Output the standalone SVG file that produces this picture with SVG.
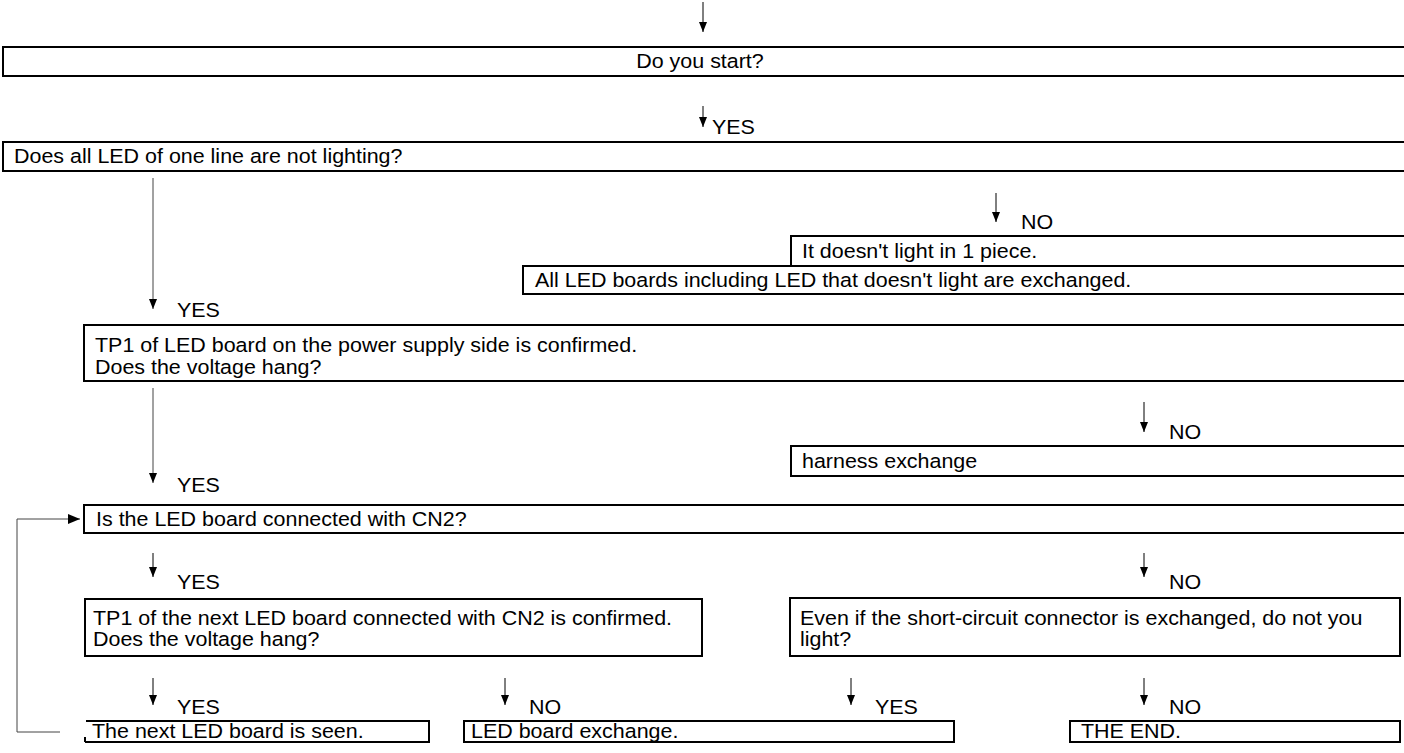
<svg xmlns="http://www.w3.org/2000/svg" width="1404" height="753" viewBox="0 0 1404 753">
<defs>
<marker id="ah" markerWidth="10" markerHeight="8" refX="10" refY="4" orient="auto" markerUnits="userSpaceOnUse" viewBox="0 0 10 8">
<path d="M0,0 L10,4 L0,8 Z" fill="#000"/>
</marker>
<marker id="ahl" markerWidth="12" markerHeight="10" refX="12" refY="5" orient="auto" markerUnits="userSpaceOnUse" viewBox="0 0 12 10">
<path d="M0,0 L12,5 L0,10 Z" fill="#000"/>
</marker>
</defs>
<style>
.box{fill:#fff;stroke:#000;stroke-width:2}
.t{font-family:"Liberation Sans",Arial,sans-serif;font-size:19.5px;fill:#000}
.c{fill:none;stroke:#000;stroke-width:1}
.cl{fill:none;stroke:#444;stroke-width:1}
</style>
<rect width="1404" height="753" fill="#fff"/>
<g id="connectors">
<line class="c" x1="703" y1="2" x2="703" y2="32" marker-end="url(#ah)"/>
<line class="c" x1="703" y1="106" x2="703" y2="127" marker-end="url(#ah)"/>
<line class="cl" x1="153" y1="178" x2="153" y2="309" marker-end="url(#ah)"/>
<line class="c" x1="996" y1="193" x2="996" y2="222" marker-end="url(#ah)"/>
<line class="cl" x1="153" y1="388" x2="153" y2="483" marker-end="url(#ah)"/>
<line class="c" x1="1144" y1="402" x2="1144" y2="432" marker-end="url(#ah)"/>
<line class="c" x1="153" y1="553" x2="153" y2="577" marker-end="url(#ah)"/>
<line class="c" x1="1144" y1="553" x2="1144" y2="577" marker-end="url(#ah)"/>
<line class="c" x1="153" y1="678" x2="153" y2="705" marker-end="url(#ah)"/>
<line class="c" x1="505" y1="678" x2="505" y2="705" marker-end="url(#ah)"/>
<line class="c" x1="851" y1="678" x2="851" y2="705" marker-end="url(#ah)"/>
<line class="c" x1="1144" y1="678" x2="1144" y2="705" marker-end="url(#ah)"/>
<polyline class="cl" points="60,732 17,732 17,519 80,519" marker-end="url(#ahl)"/>
<text class="t" transform="translate(712,134) scale(1.1,1)">YES</text>
<text class="t" transform="translate(177,317) scale(1.1,1)">YES</text>
<text class="t" transform="translate(1021,229) scale(1.1,1)">NO</text>
<text class="t" transform="translate(177,492) scale(1.1,1)">YES</text>
<text class="t" transform="translate(1169,439) scale(1.1,1)">NO</text>
<text class="t" transform="translate(177,589) scale(1.1,1)">YES</text>
<text class="t" transform="translate(1169,589) scale(1.1,1)">NO</text>
<text class="t" transform="translate(177,714) scale(1.1,1)">YES</text>
<text class="t" transform="translate(529,714) scale(1.1,1)">NO</text>
<text class="t" transform="translate(875,714) scale(1.1,1)">YES</text>
<text class="t" transform="translate(1169,714) scale(1.1,1)">NO</text>
</g>
<g id="n1"><rect class="box" x="3" y="47" width="1410" height="29"/><text class="t" transform="translate(700,68) scale(1.1,1)" text-anchor="middle">Do you start?</text></g>
<g id="n2"><rect class="box" x="3" y="142" width="1410" height="29"/><text class="t" transform="translate(14,163) scale(1.1,1)">Does all LED of one line are not lighting?</text></g>
<g id="n3"><rect class="box" x="791" y="236" width="620" height="30"/><text class="t" transform="translate(802,258) scale(1.1,1)">It doesn't light in 1 piece.</text></g>
<g id="n4"><rect class="box" x="523" y="266" width="890" height="28"/><text class="t" transform="translate(535,287) scale(1.1,1)">All LED boards including LED that doesn't light are exchanged.</text></g>
<g id="n5"><rect class="box" x="84" y="325" width="1330" height="56"/><text class="t" transform="translate(95,352) scale(1.1,1)">TP1 of LED board on the power supply side is confirmed.</text><text class="t" transform="translate(95,374) scale(1.1,1)">Does the voltage hang?</text></g>
<g id="n6"><rect class="box" x="791" y="446" width="620" height="30"/><text class="t" transform="translate(802,468) scale(1.1,1)">harness exchange</text></g>
<g id="n7"><rect class="box" x="84" y="505" width="1330" height="28"/><text class="t" transform="translate(96,526) scale(1.1,1)">Is the LED board connected with CN2?</text></g>
<g id="n8"><rect class="box" x="85" y="599" width="617" height="57"/><text class="t" transform="translate(93,625) scale(1.1,1)">TP1 of the next LED board connected with CN2 is confirmed.</text><text class="t" transform="translate(93,646) scale(1.1,1)">Does the voltage hang?</text></g>
<g id="n9"><rect class="box" x="790" y="598" width="610" height="58"/><text class="t" transform="translate(800,625) scale(1.1,1)">Even if the short-circuit connector is exchanged, do not you</text><text class="t" transform="translate(800,646) scale(1.1,1)">light?</text></g>
<g id="n10"><path class="box" d="M85,742 L85,737 M85,742 L429,742 L429,721 L86,721" fill="none"/><text class="t" transform="translate(92,738) scale(1.1,1)">The next LED board is seen.</text></g>
<g id="n11"><rect class="box" x="464" y="721" width="490" height="21"/><text class="t" transform="translate(471,738) scale(1.1,1)">LED board exchange.</text></g>
<g id="n12"><rect class="box" x="1070" y="721" width="330" height="21"/><text class="t" transform="translate(1081,738) scale(1.1,1)">THE END.</text></g>
</svg>
